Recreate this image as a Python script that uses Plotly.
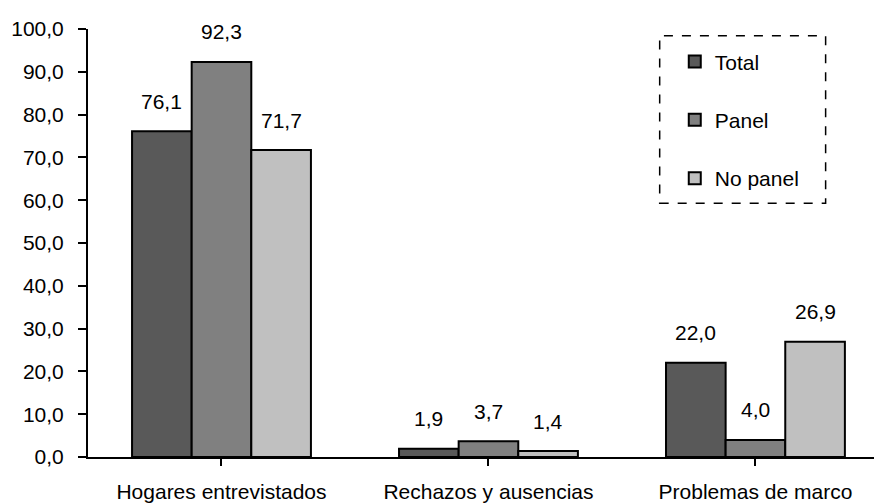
import plotly.graph_objects as go

categories = ["Hogares entrevistados", "Rechazos y ausencias", "Problemas de marco"]
series_names = ["Total", "Panel", "No panel"]
total = [76.1, 1.9, 22.0]
panel = [92.3, 3.7, 4.0]
no_panel = [71.7, 1.4, 26.9]
y_ticks = [0, 10, 20, 30, 40, 50, 60, 70, 80, 90, 100]

series_values = [total, panel, no_panel]
colors = ["#595959", "#808080", "#C0C0C0"]
FONT = "Liberation Sans, Arial, sans-serif"
FS = 21

fig = go.Figure()
for name, vals, col in zip(series_names, series_values, colors):
    fig.add_trace(go.Bar(
        x=list(range(len(categories))), y=vals, name=name,
        marker=dict(color=col, line=dict(color="black", width=2)),
        legendgroup=name,
    ))

bar_w = 0.224
annotations = []
for j, vals in enumerate(series_values):
    for i, v in enumerate(vals):
        annotations.append(dict(
            x=i + (j - 1) * bar_w, y=v, xref="x", yref="y",
            text=f"{v:.1f}".replace(".", ","), showarrow=False,
            yshift=30, font=dict(family=FONT, size=FS, color="black"),
        ))

fig.update_layout(
    width=874, height=495,
    margin=dict(l=80, r=0, t=21, b=46),
    paper_bgcolor="white", plot_bgcolor="white",
    barmode="group", bargap=0.33, bargroupgap=0,
    separators=",.",
    font=dict(family=FONT, size=FS, color="black"),
    showlegend=True,
    legend=dict(
        x=0.739, y=0.971, xanchor="left", yanchor="top",
        bgcolor="rgba(0,0,0,0)", borderwidth=0,
        font=dict(family=FONT, size=FS),
        tracegroupgap=28, itemwidth=30,
    ),
    annotations=annotations,
    shapes=[dict(type="rect", xref="paper", yref="paper",
                 x0=0.720, x1=0.929, y0=0.593, y1=0.984,
                 line=dict(color="black", width=1.5, dash="dash"))],
)
fig.update_xaxes(
    range=[-0.5, 2.474], tickvals=[0, 1, 2], ticktext=categories,
    showline=True, linecolor="black", linewidth=2,
    ticks="outside", tickson="boundaries", ticklen=7, tickwidth=2, tickcolor="black",
    ticklabelstandoff=8, showgrid=False, zeroline=False, automargin=False,
    tickfont=dict(family=FONT, size=FS),
)
fig.update_yaxes(
    range=[0, 100], tickvals=y_ticks, tickformat=".1f",
    showline=True, linecolor="black", linewidth=2,
    ticks="outside", ticklen=8, tickwidth=2, tickcolor="black",
    ticklabelstandoff=10, showgrid=False, zeroline=False, automargin=False,
    tickfont=dict(family=FONT, size=FS),
)
fig.write_html("out.html")
